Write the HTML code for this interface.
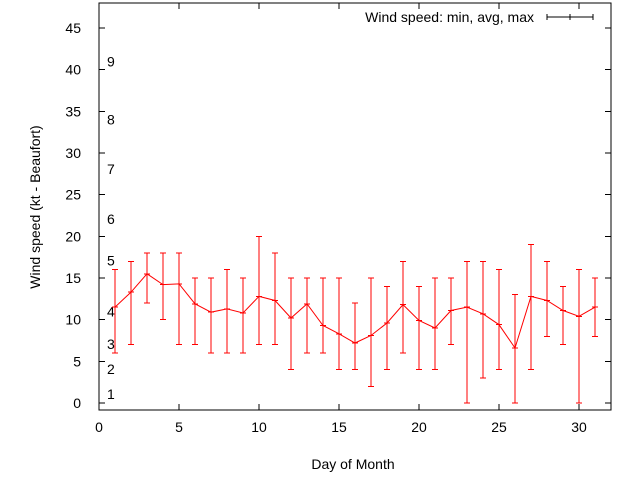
<!DOCTYPE html>
<html><head><meta charset="utf-8"><style>
body{margin:0;background:#fff}
svg text{font-family:"Liberation Sans",sans-serif;font-size:14px;fill:#000}
.c{shape-rendering:crispEdges}
</style></head><body>
<svg width="640" height="480" xmlns="http://www.w3.org/2000/svg">
<g id="g"></g>
</svg>
<script>
const days=[1,2,3,4,5,6,7,8,9,10,11,12,13,14,15,16,17,18,19,20,21,22,23,24,25,26,27,28,29,30,31];
const avgs=[11.5,13.3,15.5,14.2,14.3,11.9,10.9,11.3,10.8,12.8,12.3,10.2,11.9,9.3,8.3,7.2,8.1,9.6,11.8,9.9,9.0,11.1,11.5,10.7,9.4,6.6,12.8,12.3,11.1,10.4,11.5];
const mins=[6,7,12,10,7,7,6,6,6,7,7,4,6,6,4,4,2,4,6,4,4,7,0,3,4,0,4,8,7,0,8];
const maxs=[16,17,18,18,18,15,15,16,15,20,18,15,15,15,15,12,15,14,17,14,15,15,17,17,16,13,19,17,14,16,15];
const xTicks=[0,5,10,15,20,25,30];
const yTicks=[0,5,10,15,20,25,30,35,40,45];
const bfLabels=["1","2","3","4","5","6","7","8","9"];
const bfValues=[1.1,4.1,7.1,11,17.1,22.1,28.1,34,41];
const L=99,R=611,T=3,B=410;
const X=v=>L+v*(R-L)/32;
const Y=v=>403-v*(375/45);
const g=document.getElementById('g');
const NS='http://www.w3.org/2000/svg';
function mk(t,a,txt){const e=document.createElementNS(NS,t);for(const k in a)e.setAttribute(k,a[k]);if(txt!=null)e.textContent=txt;g.appendChild(e);return e;}
let e=mk('rect',{x:L,y:T,width:R-L,height:B-T,fill:'none',stroke:'#000','stroke-width':1,class:'c'});


yTicks.forEach(v=>{
 e=mk('line',{x1:L,x2:L+6,y1:Y(v),y2:Y(v),stroke:'#000',class:'c'});
 
 
 e=mk('line',{x1:R,x2:R-6,y1:Y(v),y2:Y(v),stroke:'#000',class:'c'});
 
 
 e=mk('text',{x:81,y:Y(v)+5,'text-anchor':'end'},String(v));
 
 
});
xTicks.forEach(v=>{
 e=mk('line',{x1:X(v),x2:X(v),y1:B,y2:B-6,stroke:'#000',class:'c'});
 
 
 e=mk('line',{x1:X(v),x2:X(v),y1:T,y2:T+6,stroke:'#000',class:'c'});
 
 
 e=mk('text',{x:X(v),y:432,'text-anchor':'middle'},String(v));
 
 
});
bfLabels.forEach((t,i)=>{
 e=mk('text',{x:107,y:Y(bfValues[i])+5},t);
 
 
});
e=mk('text',{x:353,y:469,'text-anchor':'middle'},'Day of Month');


e=mk('text',{x:40,y:207,'text-anchor':'middle',transform:'rotate(-90 40 207)'},'Wind speed (kt - Beaufort)');


e=mk('text',{x:534,y:22,'text-anchor':'end'},'Wind speed: min, avg, max');


e=mk('path',{d:'M547 17H593M547 14V20M593 14V20M570 14V20',stroke:'#000',fill:'none',class:'c'});


e=mk('polyline',{points:days.map((d,i)=>X(d)+','+Y(avgs[i])).join(' '),fill:'none',stroke:'#f00'});


days.forEach((d,i)=>{
 const x=X(d);
 e=mk('path',{d:`M${x} ${Y(mins[i])}V${Y(maxs[i])}M${x-3} ${Y(mins[i])}H${x+3}M${x-3} ${Y(maxs[i])}H${x+3}M${x-3} ${Y(avgs[i])}H${x+3}`,stroke:'#f00',fill:'none',class:'c'});
 
 
});
</script>
</body></html>
